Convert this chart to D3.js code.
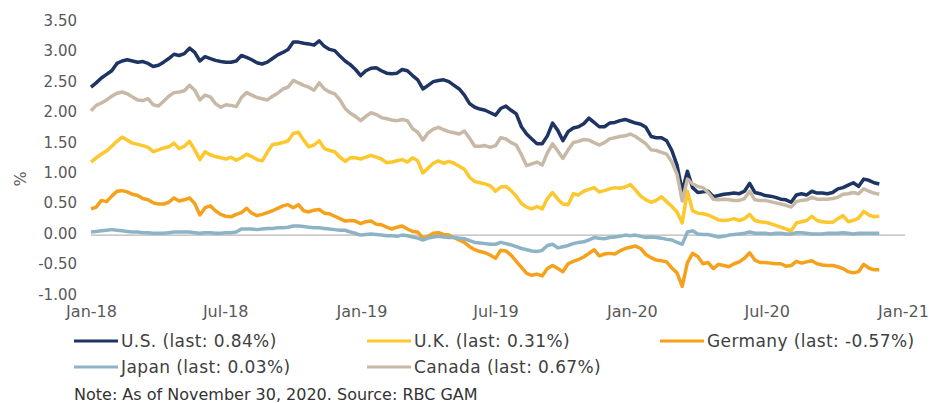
<!DOCTYPE html>
<html>
<head>
<meta charset="utf-8">
<script src="https://d3js.org/d3.v7.min.js"></script>
<style>
  body { margin: 0; background: #fff; }
  svg text { font-family: "DejaVu Sans", sans-serif; }
</style>
</head>
<body>
<div id="chart_area"></div>
<script>
// weekly readings, first week = 1 Jan 2018, last = 30 Nov 2020
let start = new Date(2018, 0, 1);
let nWeeks = 153;

let us = [
  2.43, 2.50, 2.58, 2.64, 2.70, 2.82, 2.86, 2.88, 2.86, 2.84,
  2.85, 2.82, 2.77, 2.79, 2.84, 2.90, 2.97, 2.95, 2.98, 3.07,
  3.00, 2.86, 2.93, 2.90, 2.87, 2.85, 2.84, 2.84, 2.86, 2.95,
  2.92, 2.88, 2.83, 2.81, 2.84, 2.90, 2.96, 3.00, 3.05, 3.17,
  3.17, 3.15, 3.14, 3.12, 3.19, 3.10, 3.05, 3.03, 2.94, 2.86,
  2.80, 2.72, 2.62, 2.70, 2.74, 2.75, 2.70, 2.66, 2.65, 2.66,
  2.72, 2.70, 2.62, 2.55, 2.40, 2.46, 2.52, 2.54, 2.55, 2.52,
  2.46, 2.40, 2.30, 2.16, 2.10, 2.07, 2.05, 2.01, 1.97, 2.08,
  2.12, 2.05, 1.99, 1.78, 1.66, 1.58, 1.50, 1.50, 1.63, 1.84,
  1.72, 1.55, 1.70, 1.76, 1.78, 1.83, 1.92, 1.85, 1.78, 1.78,
  1.84, 1.85, 1.88, 1.90, 1.87, 1.84, 1.82, 1.77, 1.62, 1.60,
  1.60, 1.55, 1.39, 1.15, 0.72, 1.05, 0.78, 0.70, 0.71, 0.72,
  0.63, 0.65, 0.67, 0.68, 0.69, 0.68, 0.72, 0.85, 0.70, 0.68,
  0.65, 0.64, 0.62, 0.59, 0.58, 0.54, 0.66, 0.68, 0.66, 0.72,
  0.69, 0.69, 0.68, 0.70, 0.76, 0.78, 0.82, 0.86, 0.80, 0.92,
  0.90, 0.86, 0.84
];

let uk = [
  1.20, 1.27, 1.33, 1.38, 1.46, 1.54, 1.61, 1.56, 1.51, 1.49,
  1.47, 1.44, 1.37, 1.40, 1.43, 1.45, 1.51, 1.42, 1.46, 1.54,
  1.40, 1.24, 1.37, 1.32, 1.29, 1.27, 1.25, 1.28, 1.23, 1.27,
  1.33, 1.29, 1.24, 1.22, 1.36, 1.49, 1.50, 1.52, 1.55, 1.67,
  1.69, 1.56, 1.45, 1.48, 1.55, 1.42, 1.39, 1.37, 1.28, 1.21,
  1.27, 1.27, 1.25, 1.28, 1.31, 1.28, 1.25, 1.19, 1.20, 1.22,
  1.24, 1.20, 1.27, 1.22, 1.02, 1.10, 1.18, 1.22, 1.18, 1.21,
  1.18, 1.13, 1.08, 0.95, 0.88, 0.86, 0.84, 0.81, 0.72, 0.79,
  0.80, 0.73, 0.64, 0.52, 0.46, 0.43, 0.47, 0.43, 0.60, 0.70,
  0.59, 0.51, 0.50, 0.68, 0.66, 0.72, 0.75, 0.78, 0.71, 0.73,
  0.76, 0.78, 0.77, 0.79, 0.83, 0.74, 0.64, 0.58, 0.54, 0.57,
  0.63, 0.55, 0.47, 0.38, 0.20, 0.72, 0.40, 0.36, 0.35, 0.33,
  0.29, 0.25, 0.24, 0.25, 0.27, 0.24, 0.27, 0.34, 0.24, 0.22,
  0.21, 0.19, 0.16, 0.13, 0.10, 0.07, 0.20, 0.22, 0.24, 0.31,
  0.24, 0.22, 0.21, 0.21, 0.27, 0.32, 0.22, 0.24, 0.28, 0.39,
  0.33, 0.30, 0.31
];

let germany = [
  0.43, 0.46, 0.57, 0.55, 0.64, 0.72, 0.73, 0.71, 0.67, 0.65,
  0.60, 0.58, 0.53, 0.51, 0.51, 0.54, 0.61, 0.56, 0.58, 0.61,
  0.52, 0.33, 0.45, 0.48, 0.40, 0.34, 0.31, 0.30, 0.34, 0.37,
  0.44, 0.36, 0.32, 0.34, 0.37, 0.40, 0.44, 0.48, 0.50, 0.45,
  0.50, 0.40, 0.38, 0.41, 0.42, 0.36, 0.35, 0.31, 0.27, 0.23,
  0.24, 0.23, 0.19, 0.22, 0.23, 0.18, 0.17, 0.13, 0.10, 0.13,
  0.15, 0.10, 0.06, 0.05, -0.05, -0.02, 0.03, 0.04, 0.01, 0.00,
  -0.04, -0.08, -0.12, -0.19, -0.24, -0.27, -0.29, -0.33, -0.38, -0.25,
  -0.26, -0.33, -0.43, -0.53, -0.63, -0.66, -0.64, -0.67, -0.55, -0.50,
  -0.55, -0.60, -0.47, -0.43, -0.40, -0.36, -0.30, -0.24, -0.34, -0.31,
  -0.30, -0.31, -0.26, -0.22, -0.20, -0.18, -0.22, -0.32, -0.37, -0.41,
  -0.42, -0.44, -0.54, -0.62, -0.84, -0.45, -0.30, -0.35, -0.47, -0.45,
  -0.55, -0.48, -0.50, -0.52, -0.47, -0.44, -0.38, -0.29, -0.41, -0.45,
  -0.45, -0.46, -0.47, -0.47, -0.51, -0.50, -0.43, -0.46, -0.44, -0.42,
  -0.47, -0.49, -0.50, -0.50, -0.52, -0.55, -0.60, -0.62, -0.60, -0.48,
  -0.54, -0.57, -0.57
];

let japan = [
  0.05, 0.06, 0.07, 0.08, 0.09, 0.08, 0.07, 0.06, 0.05, 0.05,
  0.04, 0.04, 0.03, 0.03, 0.03, 0.04, 0.05, 0.05, 0.05, 0.05,
  0.04, 0.03, 0.04, 0.04, 0.03, 0.03, 0.04, 0.04, 0.05, 0.10,
  0.10, 0.10, 0.09, 0.10, 0.11, 0.11, 0.12, 0.12, 0.13, 0.15,
  0.15, 0.14, 0.13, 0.12, 0.12, 0.11, 0.10, 0.09, 0.08, 0.08,
  0.05, 0.03, 0.00, 0.01, 0.02, 0.01, 0.00, -0.01, -0.01, -0.02,
  0.00, -0.01, -0.03, -0.05, -0.08, -0.05, -0.03, -0.02, -0.03, -0.04,
  -0.04, -0.05, -0.06, -0.09, -0.12, -0.13, -0.14, -0.15, -0.15, -0.12,
  -0.14, -0.16, -0.19, -0.22, -0.24, -0.26, -0.27, -0.25, -0.17, -0.15,
  -0.21, -0.19, -0.17, -0.14, -0.12, -0.11, -0.08, -0.04, -0.05, -0.06,
  -0.04, -0.03, -0.02, 0.00, -0.01, 0.00, -0.02, -0.04, -0.03, -0.04,
  -0.05, -0.07, -0.08, -0.12, -0.15, 0.05, 0.07, 0.02, 0.01, 0.01,
  -0.01, -0.03, -0.02, 0.00, 0.01, 0.02, 0.03, 0.05, 0.03, 0.03,
  0.03, 0.02, 0.03, 0.03, 0.02, 0.02, 0.04, 0.04, 0.03, 0.02,
  0.02, 0.02, 0.03, 0.03, 0.03, 0.04, 0.03, 0.02, 0.03, 0.03,
  0.03, 0.03, 0.03
];

let canada = [
  2.04, 2.13, 2.17, 2.22, 2.28, 2.33, 2.35, 2.32, 2.27, 2.22,
  2.21, 2.24, 2.14, 2.12, 2.20, 2.28, 2.34, 2.35, 2.37, 2.46,
  2.38, 2.22, 2.30, 2.27, 2.16, 2.10, 2.14, 2.13, 2.11, 2.26,
  2.34, 2.30, 2.26, 2.24, 2.22, 2.28, 2.33, 2.40, 2.43, 2.54,
  2.50, 2.46, 2.43, 2.38, 2.50, 2.40, 2.35, 2.32, 2.22, 2.08,
  2.00, 1.95, 1.88, 1.95, 2.01, 1.98, 1.93, 1.91, 1.89, 1.88,
  1.90, 1.88, 1.75, 1.69, 1.56, 1.68, 1.74, 1.77, 1.73, 1.70,
  1.68, 1.66, 1.71, 1.59, 1.46, 1.46, 1.47, 1.44, 1.47, 1.60,
  1.58, 1.52, 1.48, 1.32, 1.14, 1.17, 1.20, 1.15, 1.35, 1.50,
  1.38, 1.26, 1.40, 1.52, 1.54, 1.57, 1.56, 1.52, 1.48, 1.52,
  1.58, 1.60, 1.62, 1.63, 1.66, 1.62, 1.56, 1.50, 1.40, 1.39,
  1.36, 1.33, 1.20, 1.00, 0.56, 0.92, 0.84, 0.80, 0.78, 0.70,
  0.59, 0.58, 0.59, 0.58, 0.57, 0.57, 0.60, 0.72, 0.58, 0.57,
  0.57, 0.55, 0.53, 0.51, 0.49, 0.46, 0.55, 0.57, 0.58, 0.62,
  0.59, 0.59, 0.59, 0.60, 0.62, 0.67, 0.68, 0.70, 0.68, 0.76,
  0.72, 0.69, 0.67
];

let yTicks = [-1, -0.5, 0, 0.5, 1, 1.5, 2, 2.5, 3, 3.5];
let xTicks = ["2018-01-01", "2018-07-01", "2019-01-01", "2019-07-01", "2020-01-01", "2020-07-01", "2021-01-01"];

let series = [
  {name: "U.S. (last: 0.84%)", values: us, color: "#1e3463"},
  {name: "U.K. (last: 0.31%)", values: uk, color: "#fdc72e"},
  {name: "Germany (last: -0.57%)", values: germany, color: "#f6a11c"},
  {name: "Japan (last: 0.03%)", values: japan, color: "#8db4c6"},
  {name: "Canada (last: 0.67%)", values: canada, color: "#c8b9a7"}
];

let dates = d3.range(nWeeks).map(i => d3.timeDay.offset(start, 7 * i));

let width = 948;
let height = 403;

let svg = d3.select("#chart_area").append("svg")
    .attr("width", width)
    .attr("height", height);

let x = d3.scaleTime()
    .domain([new Date(2018, 0, 1), new Date(2021, 0, 1)])
    .range([91, 903]);

let y = d3.scaleLinear()
    .domain([-1, 3.5])
    .range([296, 22]);

// plain hyphen for negatives, like the original
let fmt = d3.formatLocale({decimal: ".", thousands: ",", grouping: [3], currency: ["", ""], minus: "-"}).format(".2f");

// y tick labels
svg.append("g")
    .attr("transform", "translate(77,0)")
    .call(d3.axisLeft(y).tickValues(yTicks).tickSize(0).tickPadding(0).tickFormat(fmt))
    .call(g => g.select(".domain").remove())
    .selectAll("text")
        .attr("dy", "0.22em")
        .style("font-size", "15px")
        .style("font-family", "'DejaVu Sans', sans-serif")
        .attr("fill", "#595959");

// x tick labels
svg.append("g")
    .attr("transform", "translate(0,306)")
    .call(d3.axisBottom(x).tickValues(xTicks.map(d => d3.timeParse("%Y-%m-%d")(d))).tickSize(0).tickPadding(0).tickFormat(d3.timeFormat("%b-%y")))
    .call(g => g.select(".domain").remove())
    .selectAll("text")
        .style("font-size", "16px")
        .style("font-family", "'DejaVu Sans', sans-serif")
        .attr("fill", "#595959");

// zero line
svg.append("line")
    .attr("x1", x.range()[0])
    .attr("x2", x.range()[1] + 2)
    .attr("y1", y(0))
    .attr("y2", y(0))
    .attr("stroke", "#a6a6a6")
    .attr("stroke-width", 1);

// % label
svg.append("text")
    .attr("transform", "translate(26,179) rotate(-90)")
    .attr("text-anchor", "middle")
    .style("font-size", "16px")
    .attr("fill", "#595959")
    .text("%");

let line = d3.line()
    .x((d, i) => x(dates[i]))
    .y(d => y(d));

svg.selectAll(".series")
    .data(series)
    .join("path")
        .attr("class", "series")
        .attr("d", d => line(d.values))
        .attr("fill", "none")
        .attr("stroke", d => d.color)
        .attr("stroke-width", 3.5)
        .attr("stroke-linejoin", "round");

// legend
let legend = svg.selectAll(".legend")
    .data(series)
    .join("g")
        .attr("class", "legend")
        .attr("transform", (d, i) => "translate(" + (74 + 293 * (i % 3)) + "," + (341 + 26 * Math.floor(i / 3)) + ")");

legend.append("line")
    .attr("x1", 0).attr("x2", 44)
    .attr("y1", 0).attr("y2", 0)
    .attr("stroke", d => d.color)
    .attr("stroke-width", 3);

legend.append("text")
    .attr("x", 47)
    .attr("dy", "0.35em")
    .style("font-size", "17px")
    .style("letter-spacing", "0.4px")
    .attr("fill", "#404040")
    .text(d => d.name);

svg.append("text")
    .attr("x", 74)
    .attr("y", 394)
    .attr("dy", "0.35em")
    .style("font-size", "16px")
    .attr("fill", "#333")
    .text("Note: As of November 30, 2020. Source: RBC GAM");
</script>
</body>
</html>
